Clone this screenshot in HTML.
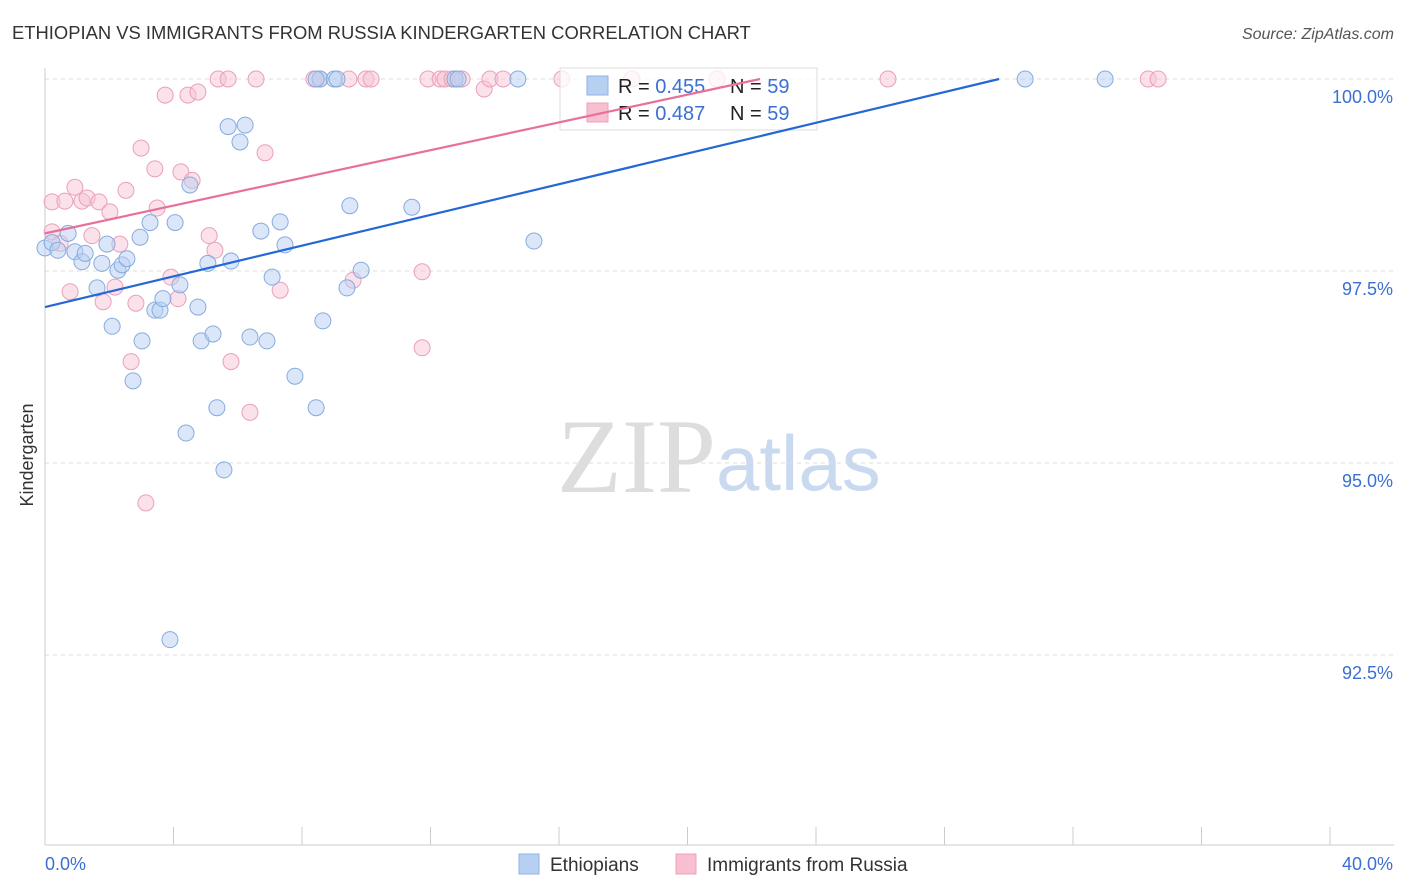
<!DOCTYPE html>
<html><head><meta charset="utf-8"><style>
body{margin:0;background:#fff;font-family:"Liberation Sans",sans-serif;}
svg{display:block}
</style></head><body>
<svg id="chart" width="1406" height="892">
<text x="12" y="39" font-size="18.4" fill="#333">ETHIOPIAN VS IMMIGRANTS FROM RUSSIA KINDERGARTEN CORRELATION CHART</text>
<text x="1394" y="39" font-size="16" fill="#555" font-style="italic" text-anchor="end">Source: ZipAtlas.com</text>
<text x="716" y="492" font-size="106" fill="#ddd" text-anchor="end" font-family="Liberation Serif,serif">ZIP</text>
<text x="716" y="490" font-size="78" fill="#c9daf0">atlas</text>
<text transform="translate(33,455) rotate(-90)" font-size="18" fill="#333" text-anchor="middle">Kindergarten</text>
<g id="grid"></g><g id="lines"></g><g id="pts"></g>
<g>
<rect x="560" y="68" width="257" height="62" fill="#fff" fill-opacity="0.75" stroke="#ddd"/>
<rect x="587" y="76" width="21" height="19" fill="#b7d0f2" stroke="#8fb2e6"/>
<text x="618" y="93" font-size="20" fill="#222">R = <tspan fill="#3b6fd1">0.455</tspan></text>
<text x="730" y="93" font-size="20" fill="#222">N = <tspan fill="#3b6fd1">59</tspan></text>
<rect x="587" y="103" width="21" height="19" fill="#f7bfd0" stroke="#efa0b8"/>
<text x="618" y="120" font-size="20" fill="#222">R = <tspan fill="#3b6fd1">0.487</tspan></text>
<text x="730" y="120" font-size="20" fill="#222">N = <tspan fill="#3b6fd1">59</tspan></text>
</g>
<g>
<rect x="519" y="854" width="20" height="20" fill="#b7d0f2" stroke="#8fb2e6"/>
<text x="550" y="871" font-size="19" fill="#333">Ethiopians</text>
<rect x="676" y="854" width="20" height="20" fill="#f7bfd0" stroke="#efa0b8"/>
<text x="707" y="871" font-size="19" fill="#333">Immigrants from Russia</text>
</g>
</svg>
<script>
const blueX=[0.0,0.22,0.40,0.72,0.93,1.15,1.25,1.62,1.77,1.93,2.09,2.27,2.40,2.55,2.74,2.96,3.02,3.27,3.42,3.58,3.67,3.89,4.05,4.20,4.39,4.51,4.76,4.86,5.07,5.23,5.35,5.57,5.70,5.79,6.07,6.23,6.38,6.72,6.91,7.07,7.32,7.47,7.78,8.44,8.56,8.65,9.00,9.40,9.49,9.84,11.42,12.76,12.86,14.72,15.22,30.51,33.00,8.44,9.09];
const blueY=[97.80,97.87,97.77,97.99,97.75,97.62,97.73,97.28,97.60,97.85,96.78,97.51,97.58,97.66,96.07,97.94,96.59,98.13,96.99,96.99,97.14,92.70,98.13,97.32,95.39,98.62,97.03,96.59,97.60,96.68,95.72,94.91,99.38,97.63,99.18,99.40,96.64,98.02,96.59,97.42,98.14,97.84,96.13,95.72,100,96.85,100,97.28,98.35,97.51,98.33,100,100,100,97.89,100,100,100,100];
const pinkX=[0.22,0.22,0.47,0.62,0.78,0.93,1.15,1.31,1.46,1.68,1.81,2.02,2.18,2.33,2.52,2.68,2.83,2.99,3.14,3.42,3.49,3.74,3.92,4.14,4.23,4.45,4.58,4.76,5.11,5.29,5.39,5.70,5.79,6.38,6.57,6.85,7.32,8.37,8.56,9.46,9.59,9.99,10.15,11.74,11.74,11.92,12.30,12.45,12.67,12.98,13.67,13.85,14.26,16.09,18.27,20.92,26.24,34.34,34.65];
const pinkY=[98.40,98.01,97.86,98.41,97.23,98.59,98.41,98.45,97.96,98.40,97.10,98.27,97.29,97.85,98.55,96.32,97.08,99.10,94.48,98.83,98.32,99.79,97.42,97.14,98.79,99.79,98.68,99.83,97.96,97.77,100,100,96.32,95.66,100,99.04,97.25,100,100,100,97.38,100,100,97.49,96.50,100,100,100,100,100,99.87,100,100,100,100,100,100,100,100];
const yTicks=[100,97.5,95,92.5];
const yTickLabels=["100.0%","97.5%","95.0%","92.5%"];
const xEndLabels=["0.0%","40.0%"];
const blueFit=[97.03,0.1];
const pinkFit=[97.99,0.0903];
const NS='http://www.w3.org/2000/svg';
const X=v=>45+v/40*1285, Y=v=>79+(100-v)/2.5*192;
function mk(t,a,p){const e=document.createElementNS(NS,t);for(const k in a)e.setAttribute(k,a[k]);p.appendChild(e);return e;}
const grid=document.getElementById('grid');
yTicks.forEach((t,i)=>{
 const l=mk('line',{x1:45,x2:1394,y1:Y(t),y2:Y(t),stroke:'#ddd','stroke-dasharray':'4,4'},grid);
 
 
 const tx=mk('text',{x:1393,y:Y(t)+24,'font-size':18,fill:'#3b6fd1','text-anchor':'end'},grid);
 tx.textContent=yTickLabels[i];
 
 
});
mk('line',{x1:45,x2:45,y1:68,y2:845,stroke:'#ccc'},grid);
mk('line',{x1:45,x2:1394,y1:845,y2:845,stroke:'#ccc'},grid);
for(let i=0;i<=10;i++){mk('line',{x1:X(i*4),x2:X(i*4),y1:827,y2:845,stroke:'#ccc'},grid);}
[[0,45,'start'],[40,1393,'end']].forEach((d,i)=>{const t=mk('text',{x:d[1],y:870,'font-size':18,fill:'#3b6fd1','text-anchor':d[2]},grid);t.textContent=xEndLabels[i];
 
 });
const pts=document.getElementById('pts');
function dots(xs,ys,fill,stroke,name){xs.forEach((x,i)=>{const c=mk('circle',{cx:X(x),cy:Y(ys[i]),r:8,fill:fill,'fill-opacity':0.5,stroke:stroke,'stroke-width':1},pts);
 
 });}
dots(pinkX,pinkY,'#f7c3d3','#eaa0b9','point-russia');
dots(blueX,blueY,'#b7d0f2','#86abe0','point-ethiopians');
function fit(f,col,name){const xe=Math.min(40,(100-f[0])/f[1]);const l=mk('line',{x1:X(0),y1:Y(f[0]),x2:X(xe),y2:Y(f[0]+f[1]*xe),stroke:col,'stroke-width':2.2},document.getElementById('chart'));
 
 }
fit(blueFit,'#2468d6','trendline-ethiopians');
fit(pinkFit,'#e8709a','trendline-russia');
</script>
</body></html>
